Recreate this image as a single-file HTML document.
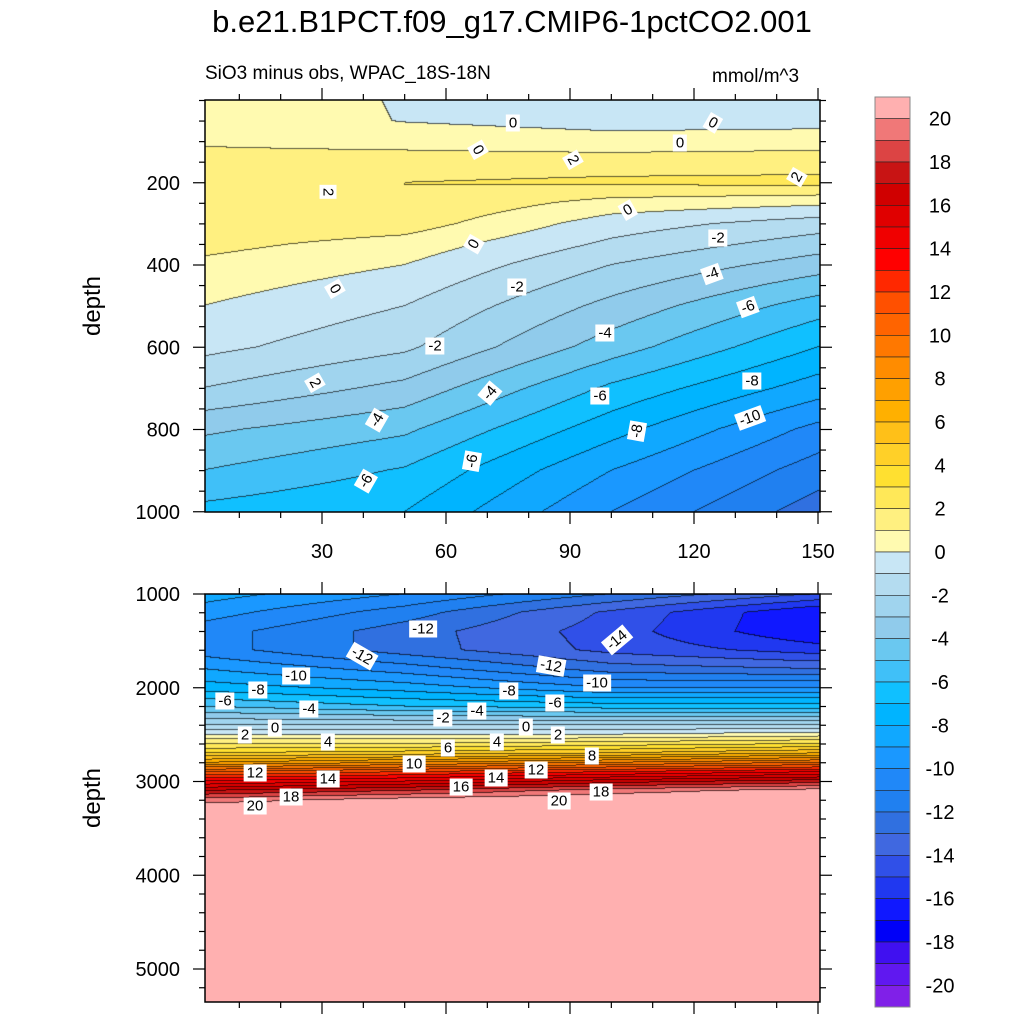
<!DOCTYPE html>
<html><head><meta charset="utf-8"><style>
body{margin:0;background:#fff;font-family:"Liberation Sans",sans-serif;}
#wrap{position:relative;width:1024px;height:1024px;overflow:hidden;}
canvas{position:absolute;}
.t{position:absolute;white-space:nowrap;color:#000;}
.cl{position:absolute;background:#fff;font-size:15px;padding:0 3px;line-height:17px;transform:translate(-50%,-50%);}
</style></head><body>
<div id="wrap">
<div class="t" style="left:0;width:1024px;text-align:center;top:4px;font-size:31px;">b.e21.B1PCT.f09_g17.CMIP6-1pctCO2.001</div>
<div class="t" style="left:205px;top:63px;font-size:19px;">SiO3 minus obs, WPAC_18S-18N</div>
<div class="t" style="left:712px;top:66px;font-size:19px;">mmol/m^3</div>
<canvas id="c1" width="615" height="412" style="left:205px;top:100px"></canvas>
<canvas id="c2" width="615" height="408" style="left:205px;top:594px"></canvas>
<svg id="ax" width="1024" height="1024" style="position:absolute;left:0;top:0"></svg>
<div id="labels"></div>
</div>
<script>
// ---- data ----
const colors=["#8020e8","#6018f0","#4010f0","#0000f8","#1018ff","#2038f0","#3050e8","#4068e0","#3070e0","#2080f0","#2088f8","#1a98ff","#10a8ff","#00b4ff","#10c0ff","#40c0f8","#6ac8f0","#90cbeb","#a0d4ee","#b4dcf0","#c8e6f5","#fffab0","#fff080","#ffe858","#ffe030","#ffd028","#ffc018","#ffb000","#ffa000","#ff8c00","#ff7800","#ff6400","#ff5000","#ff2800","#ff0000","#f00000","#e00000","#d00000","#c81414","#dc4444","#f07878","#ffb0b0"];
const years=[1,50,100,150];
const topDepths=[0,50,100,150,200,250,300,350,400,500,600,700,800,900,1000];
const topY1=[0.8,0.8,0.9,1.3,1.9,2.0,1.8,1.3,0.8,0.0,-0.7,-2.0,-3.8,-5.0,-6.3];
const topY50=[-0.1,-0.05,0.7,1.4,2.0,2.0,1.5,0.6,0.0,-1.0,-1.8,-3.3,-4.8,-6.1,-7.0];
const topY100=[-0.5,-0.4,0.4,1.5,2.2,0.6,-0.5,-1.2,-2.0,-3.3,-4.5,-6.2,-7.6,-9.0,-10.0];
const topY150=[-0.6,-0.4,0.6,1.5,2.3,0.2,-1.5,-2.5,-3.5,-5.5,-7.0,-8.5,-10.3,-11.5,-12.5];
const botDepths=[1000,1200,1400,1600,1800,2000,2200,2400,2500,2600,2700,2800,2900,3000,3100,3200,3300,5400];
const botY1=[-8.5,-9.5,-10.5,-10.5,-9,-7.5,-5,-2,0,2,4,7,11,14,17,19.5,21,21];
const botY50=[-10,-11.5,-12.5,-12.5,-10.5,-8.5,-6,-2,0,2,4.5,8,12,15,18,20.5,21,21];
const botY100=[-12,-14.2,-14.5,-14.3,-12.5,-10,-6.5,-2,0,2.5,5,9,13,16.5,19.5,21,21,21];
const botY150=[-14,-17,-17,-15.5,-13,-10,-6.5,-2,0.5,3,6,10,14,17.5,20.5,21,21,21];
const xTicks=[30,60,90,120,150];
const topYTicks=[200,400,600,800,1000];
const botYTicks=[1000,2000,3000,4000,5000];
const cbLabels=[20,18,16,14,12,10,8,6,4,2,0,-2,-4,-6,-8,-10,-12,-14,-16,-18,-20];
const contourLabels=[["0",513,123,0],["0",713,123,30],["0",478,150,60],["0",680,143,0],["2",573,160,60],["2",797,177,-60],["2",328,192,90],["0",628,210,-30],["0",474,244,-60],["-2",718,238,0],["-4",712,274,-20],["0",335,289,60],["-2",517,287,0],["-6",748,307,-20],["-4",605,333,0],["-2",435,346,0],["-8",752,381,0],["2",315,383,60],["-4",490,393,-50],["-6",600,396,0],["-10",750,418,-20],["-4",377,420,-60],["-8",637,431,-80],["-6",472,461,-80],["-6",366,481,-60],
["-12",423,629,0],["-14",617,640,-40],["-12",362,656,30],["-12",551,666,10],["-10",296,676,0],["-10",597,683,0],["-6",225,701,0],["-8",258,690,0],["-8",509,691,0],["-6",555,703,0],["-4",309,709,0],["-2",443,718,0],["-4",477,711,0],["2",245,735,0],["0",275,728,0],["0",526,727,0],["2",558,735,0],["4",328,742,0],["6",448,748,0],["4",497,742,0],["8",592,756,0],["10",414,764,0],["12",255,773,0],["12",536,770,0],["14",328,779,0],["14",496,778,0],["16",461,787,0],["18",291,797,0],["18",601,792,0],["20",255,806,0],["20",559,801,0]];
// ---- axis functions ----
const X=y=>198+(y)*124/30;
const topDY=d=>100.5+d*0.41125;
const botDY=d=>594+(d-1000)*0.09375;
function field(profiles,depths,yr,d){
  let i=0;while(i<years.length-2&&yr>years[i+1])i++;
  let t=Math.max(0,Math.min(1,(yr-years[i])/(years[i+1]-years[i])));
  let j=0;while(j<depths.length-2&&d>depths[j+1])j++;
  let s=Math.max(0,Math.min(1,(d-depths[j])/(depths[j+1]-depths[j])));
  const a=profiles[i],b=profiles[i+1];
  const va=a[j]+(a[j+1]-a[j])*s, vb=b[j]+(b[j+1]-b[j])*s;
  return va+(vb-va)*t;
}
function idx(v){return Math.max(0,Math.min(41,Math.floor(v)+21));}
function hex(c){return [parseInt(c.substr(1,2),16),parseInt(c.substr(3,2),16),parseInt(c.substr(5,2),16)];}
const rgb=colors.map(hex);
function render(id,profiles,depths,dInv,x0,y0){
  const cv=document.getElementById(id),ctx=cv.getContext('2d');
  const W=cv.width,H=cv.height,img=ctx.createImageData(W,H);
  const lv=new Int16Array(W*H);
  for(let py=0;py<H;py++){const d=dInv(y0+py+0.5);
    for(let px=0;px<W;px++){const yr=(x0+px+0.5-198)*30/124;lv[py*W+px]=idx(field(profiles,depths,yr,d));}}
  for(let p=0;p<W*H;p++){let c=rgb[lv[p]];const px=p%W,py=(p/W)|0;
    let edge=(px<W-1&&lv[p]!==lv[p+1])||(py<H-1&&lv[p]!==lv[p+W]);
    let k=edge?0.35:1;
    img.data[p*4]=c[0]*k;img.data[p*4+1]=c[1]*k;img.data[p*4+2]=c[2]*k;img.data[p*4+3]=255;}
  ctx.putImageData(img,0,0);
}
render('c1',[topY1,topY50,topY100,topY150],topDepths,y=>(y-100.5)/0.41125,205,100);
render('c2',[botY1,botY50,botY100,botY150],botDepths,y=>1000+(y-594)/0.09375,205,594);
// ---- axes ----
const svg=document.getElementById('ax');const NS='http://www.w3.org/2000/svg';
function el(tag,attrs){const e=document.createElementNS(NS,tag);for(const k in attrs)e.setAttribute(k,attrs[k]);svg.appendChild(e);return e;}
function line(x1,y1,x2,y2,w){return el('line',{x1,y1,x2,y2,stroke:'#000','stroke-width':w||1.2});}
function text(x,y,s,size,anchor){const e=el('text',{x,y,'font-size':size,'text-anchor':anchor||'middle','font-family':'Liberation Sans, sans-serif'});e.textContent=s;return e;}
function panel(top,bot,dYf,ticks,minorStep,dmin,dmax,showX,name){
  const r=el('rect',{x:205,y:top,width:615,height:bot-top,fill:'none',stroke:'#000','stroke-width':1.5});
  
  
  for(let yr=10;yr<=150;yr+=10){const x=X(yr);const maj=yr%30===0;const L=maj?12:6;
    line(x,bot,x,bot+L);line(x,top,x,top-L);}
  for(let d=dmin;d<=dmax;d+=minorStep){const y=dYf(d);if(y<top-0.5||y>bot+0.5)continue;const maj=ticks.includes(d);const L=maj?12:6;
    line(205,y,205-L,y);line(820,y,820+L,y);}
  ticks.forEach(d=>{const t=text(180,dYf(d)+7,String(d),20,'end');
    
    });
  if(showX)xTicks.forEach(v=>{const t=text(X(v),558,String(v),20);
    
    });
  const yt=text(0,0,'depth',24);yt.setAttribute('transform','translate(100,'+((top+bot)/2)+') rotate(-90)');
  
  
}
panel(100,512,topDY,topYTicks,50,0,1000,true,'top-panel');
panel(594,1002,botDY,botYTicks,200,1000,5400,false,'bottom-panel');
// colorbar
const cbTop=97,bh=910/42;
for(let i=41;i>=0;i--){const y=cbTop+(41-i)*bh;
  const r=el('rect',{x:875,y:y,width:35,height:bh,fill:colors[i],stroke:'#222','stroke-width':0.6});
  
  }
el('rect',{x:875,y:cbTop,width:35,height:910,fill:'none',stroke:'#888','stroke-width':1});
cbLabels.forEach(v=>{const y=cbTop+(21-v)*bh;const t=text(940,y+7,String(v),20);
  
  });
// contour labels
const L=document.getElementById('labels');
contourLabels.forEach(c=>{const d=document.createElement('div');d.className='cl';d.textContent=c[0];
  d.style.left=c[1]+'px';d.style.top=c[2]+'px';d.style.transform='translate(-50%,-50%) rotate('+c[3]+'deg)';
  
  
  L.appendChild(d);});
</script>
</body></html>
